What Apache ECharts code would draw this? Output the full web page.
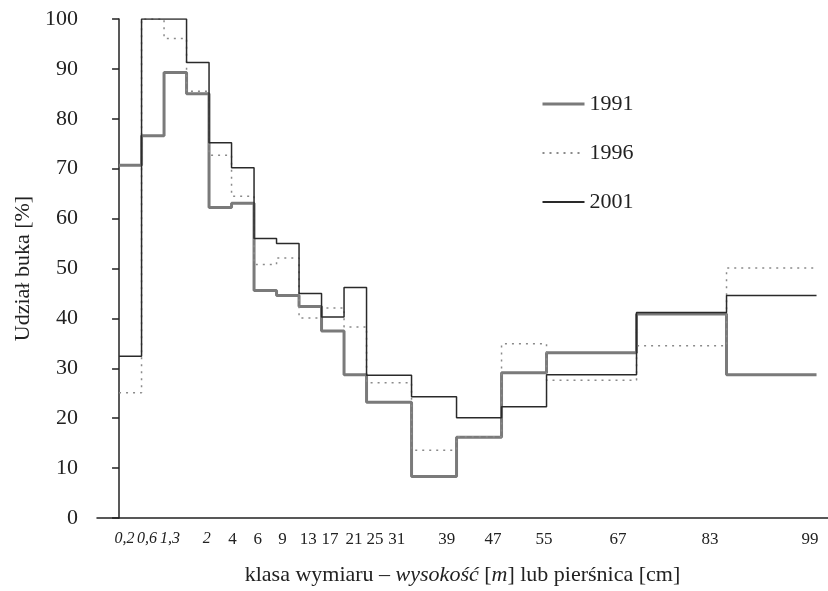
<!DOCTYPE html>
<html lang="pl">
<head>
<meta charset="UTF-8">
<title>Udział buka</title>
<script src="https://cdn.jsdelivr.net/npm/echarts@6/dist/echarts.min.js"></script>
<style>
  html, body { margin: 0; padding: 0; background: #fff; }
  #main { width: 828px; height: 591px; }
</style>
</head>
<body>
<div id="main"></div>
<script>
// class edges on the x scale (first 11 classes narrow, then wider ones)
const edges = [0, 1, 2, 3, 4, 5, 6, 7, 8, 9, 10, 11, 13, 15, 17, 19, 23, 27, 31];
const classLabels = ['0,2', '0,6', '1,3', '2', '4', '6', '9', '13', '17', '21', '25', '31', '39', '47', '55', '67', '83', '99'];
// where each class label sits on the x scale
const labelAt = [0.24, 1.24, 2.27, 3.9, 5.04, 6.16, 7.27, 8.41, 9.38, 10.44, 11.38, 12.34, 14.56, 16.62, 18.89, 22.18, 26.27, 30.71];
const heightClasses = 4; // first labels are heights in m (italic)

const v1991 = [70.7, 76.6, 89.3, 85.0, 62.2, 63.1, 45.6, 44.6, 42.4, 37.5, 28.7, 23.2, 8.3, 16.2, 29.1, 33.1, 40.9, 28.7];
const v1996 = [25.1, 100, 96.1, 85.5, 72.7, 64.5, 50.8, 52.1, 40.1, 42.1, 38.3, 27.1, 13.6, 16.3, 34.9, 27.6, 34.5, 50.1];
const v2001 = [32.4, 100, 100, 91.3, 75.2, 70.2, 56.0, 55.0, 45.0, 40.3, 46.2, 28.6, 24.3, 20.1, 22.3, 28.7, 41.2, 44.6];

const yTicks = [0, 10, 20, 30, 40, 50, 60, 70, 80, 90, 100];

function steps(vals) {
  const pts = vals.map((v, i) => [edges[i], v]);
  pts.push([edges[edges.length - 1], vals[vals.length - 1]]);
  return pts;
}

const font = 'Liberation Serif';

let chartDom = document.getElementById('main');
let myChart = echarts.init(chartDom);
let option = {
  animation: false,
  textStyle: { fontFamily: font, color: '#222' },
  grid: { left: 97, right: 0, top: 19, bottom: 71 },
  legend: {
    orient: 'vertical',
    left: 536,
    top: 88,
    itemWidth: 42,
    itemHeight: 14,
    itemGap: 27,
    itemStyle: { opacity: 0 },
    textStyle: { fontFamily: font, fontSize: 22, color: '#222', lineHeight: 22 },
    data: [
      { name: '1991', lineStyle: { width: 3 } },
      { name: '1996' },
      { name: '2001' }
    ]
  },
  xAxis: {
    type: 'value',
    min: -0.98,
    max: 31.51,
    splitLine: { show: false },
    axisTick: { show: false },
    axisLine: { lineStyle: { color: '#222', width: 1.5 } },
    axisLabel: {
      customValues: labelAt,
      showMinLabel: true,
      showMaxLabel: true,
      hideOverlap: false,
      margin: 13,
      fontFamily: font,
      fontSize: 17,
      color: '#222',
      formatter: function (val) {
        let i = 0, best = Infinity;
        labelAt.forEach((p, k) => { if (Math.abs(p - val) < best) { best = Math.abs(p - val); i = k; } });
        return i < heightClasses ? '{i|' + classLabels[i] + '}' : classLabels[i];
      },
      rich: { i: { fontFamily: font, fontSize: 16, fontStyle: 'italic', color: '#222' } }
    },
    name: '{n|klasa wymiaru – }{i|wysokość}{n| [}{i|m}{n|] lub pierśnica [cm]}',
    nameLocation: 'middle',
    nameGap: 46,
    nameTextStyle: {
      rich: {
        n: { fontFamily: font, fontSize: 22, color: '#222' },
        i: { fontFamily: font, fontSize: 22, fontStyle: 'italic', color: '#222' }
      }
    }
  },
  yAxis: {
    type: 'value',
    min: yTicks[0],
    max: yTicks[yTicks.length - 1],
    interval: yTicks[1] - yTicks[0],
    splitLine: { show: false },
    axisLine: { show: true, lineStyle: { color: '#222', width: 1.5 } },
    axisTick: { show: true, length: 7, lineStyle: { color: '#222', width: 1.5 } },
    axisLabel: { margin: 19, fontFamily: font, fontSize: 22, color: '#222' },
    name: 'Udział buka [%]',
    nameLocation: 'middle',
    nameGap: 62,
    nameTextStyle: { fontFamily: font, fontSize: 22, color: '#222' }
  },
  series: [
    {
      name: '1991', type: 'line', step: 'end', symbol: 'none',
      lineStyle: { color: '#7a7a7a', width: 3 },
      itemStyle: { color: '#7a7a7a' },
      data: steps(v1991)
    },
    {
      name: '1996', type: 'line', step: 'end', symbol: 'none',
      lineStyle: { color: '#8a8a8a', width: 1.5, type: [2, 5] },
      itemStyle: { color: '#8a8a8a' },
      data: steps(v1996)
    },
    {
      name: '2001', type: 'line', step: 'end', symbol: 'none',
      lineStyle: { color: '#2a2a2a', width: 1.5 },
      itemStyle: { color: '#2a2a2a' },
      data: steps(v2001)
    }
  ]
};
option && myChart.setOption(option);
</script>
</body>
</html>
